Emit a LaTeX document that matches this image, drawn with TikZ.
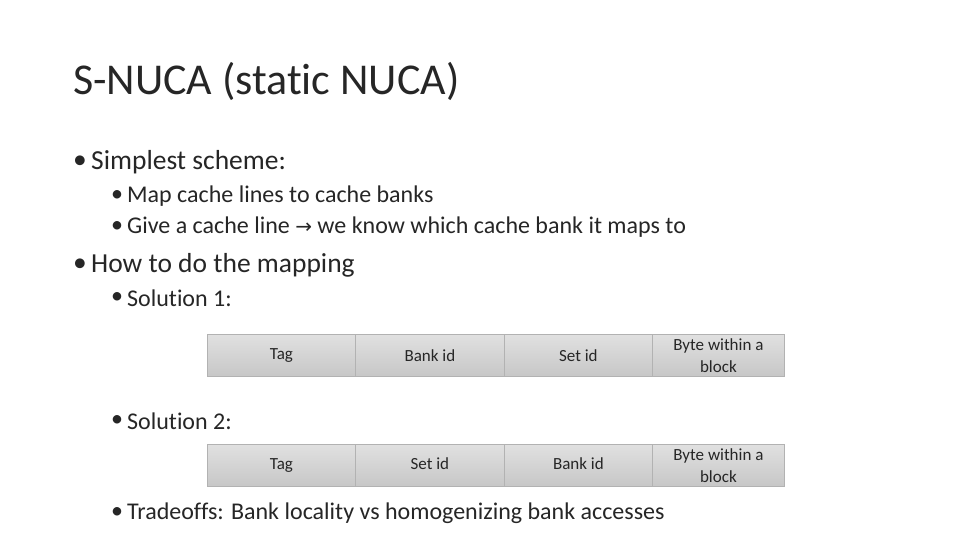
\documentclass[tikz,border=0pt]{standalone}
\usepackage{fontspec}
\setmainfont[Ligatures=NoCommon]{Carlito}
\newfontfamily\arrowfont{DejaVu Sans}
\definecolor{txt}{HTML}{262626}
\begin{document}
\begin{tikzpicture}[x=1pt,y=-1pt,
  title/.style={anchor=base west,inner sep=0,font=\fontsize{44}{48}\selectfont,text=txt},
  lone/.style={anchor=west,inner sep=0,font=\fontsize{27.5}{30}\selectfont,text=txt},
  ltwo/.style={anchor=west,inner sep=0,font=\fontsize{24}{28}\selectfont,text=txt},
  cell/.style={draw=black!30,line width=0.8pt,top color=black!12,bottom color=black!22,minimum height=42pt,inner sep=0,align=center,font=\fontsize{17}{22}\selectfont,text=txt,anchor=north west}]
\useasboundingbox[fill=white] (0,0) rectangle (960,540);
\node[title] (t) at (73,95) {S-NUCA (static NUCA)};
\node[lone] (d1) at (73,162) {•};
\node[lone] (b1) at (91,162) {Simplest scheme:};
\node[ltwo] (d11) at (111,196) {•};
\node[ltwo] (b11) at (127,196) {Map cache lines to cache banks};
\node[ltwo] (d12) at (111,227) {•};
\node[ltwo] (b12) at (127,227) {Give a cache line {\arrowfont\fontsize{20}{22}\selectfont →} we know which cache bank it maps to};
\node[lone] (d2) at (73,265) {•};
\node[lone] (b2) at (91,265) {How to do the mapping};
\node[ltwo] (d3) at (111,298) {•};
\node[ltwo] (s1) at (127,298) {Solution 1:};
\node[cell,minimum width=148pt] (a1) at (207,334) {Tag};
\node[cell,minimum width=149pt] (a2) at (355,334) {Bank id};
\node[cell,minimum width=148pt] (a3) at (504,334) {Set id};
\node[cell,minimum width=132pt] (a4) at (652,334) {Byte within a\\block};
\node[ltwo] (d4) at (111,421) {•};
\node[ltwo] (s2) at (127,421) {Solution 2:};
\node[cell,minimum width=148pt] (c1) at (207,444) {Tag\strut};
\node[cell,minimum width=149pt] (c2) at (355,444) {Set id\strut};
\node[cell,minimum width=148pt] (c3) at (504,444) {Bank id\strut};
\node[cell,minimum width=132pt] (c4) at (652,444) {Byte within a\\block};
\node[ltwo] (d5) at (111,513) {•};
\node[ltwo] (tr) at (127,513) {Tradeoffs: Bank locality vs homogenizing bank accesses};
\end{tikzpicture}
\end{document}
